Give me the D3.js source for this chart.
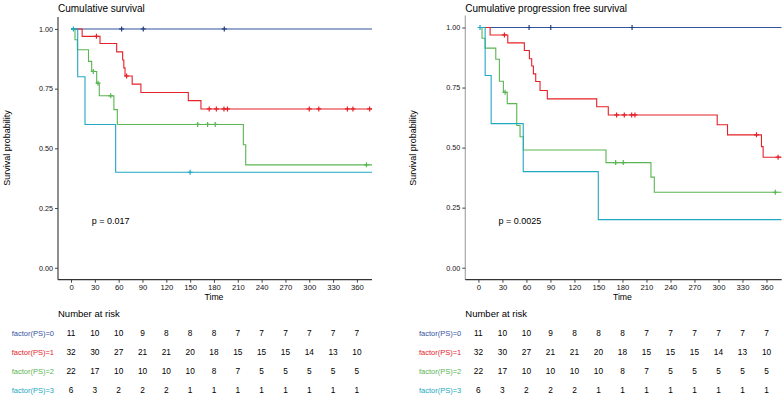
<!DOCTYPE html>
<html>
<head>
<meta charset="utf-8">
<script src="https://cdn.jsdelivr.net/npm/d3@7"></script>
<style>
	body { margin: 0; background: #fff; }
	svg { display: block; font-family: "Liberation Sans", Arial, sans-serif; }
</style>
</head>
<body>
<svg id="chart" width="784" height="398"></svg>
<script>
// time axis ticks and number-at-risk time points
const timeTicks = [0, 30, 60, 90, 120, 150, 180, 210, 240, 270, 300, 330, 360];
const survTicks = [0, 0.25, 0.5, 0.75, 1];
const groupNames = ['factor(PS)=0', 'factor(PS)=1', 'factor(PS)=2', 'factor(PS)=3'];
const groupColors = ['#33539f', '#e52128', '#5ab552', '#21a8c2'];

// overall survival: step points [time, survival] and censor marks
const osPS0 = [[0, 1]];
const osPS0Censor = [[63.7, 1], [91, 1], [193, 1]];
const osPS1 = [[0, 1], [14, 0.969], [36.5, 0.939], [57.5, 0.904], [65, 0.870], [66.5, 0.837], [68, 0.803], [77, 0.769], [88, 0.734], [147.7, 0.700], [163.6, 0.665]];
const osPS1Censor = [[32, 0.969], [70, 0.803], [174, 0.665], [183, 0.665], [192.6, 0.665], [197, 0.665], [300, 0.665], [312, 0.665], [348, 0.665], [355, 0.665], [376, 0.665]];
const osPS2 = [[0, 1], [5, 0.955], [8, 0.913], [22, 0.864], [26, 0.822], [32.3, 0.773], [35.6, 0.720], [54, 0.662], [58.3, 0.600], [217, 0.515], [220, 0.431]];
const osPS2Censor = [[28, 0.822], [34, 0.773], [50, 0.720], [159.5, 0.600], [172, 0.600], [181.6, 0.600], [372, 0.431]];
const osPS3 = [[0, 1], [8.4, 0.80], [17.6, 0.60], [56.2, 0.40]];
const osPS3Censor = [[3, 1], [150, 0.40]];

// progression free survival
const pfsPS0 = [[0, 1]];
const pfsPS0Censor = [[63.3, 1], [90.4, 1], [192, 1]];
const pfsPS1 = [[0, 1], [14.6, 0.969], [36.7, 0.936], [57.4, 0.904], [63.7, 0.870], [66.6, 0.840], [68.7, 0.807], [71.6, 0.775], [77, 0.738], [86.1, 0.703], [147.8, 0.670], [162.3, 0.636], [298.4, 0.595], [311.3, 0.553], [353.7, 0.504], [355.8, 0.460]];
const pfsPS1Censor = [[32.5, 0.969], [172.7, 0.636], [182.3, 0.636], [191.5, 0.636], [195.6, 0.636], [347.5, 0.553], [374.5, 0.460]];
const pfsPS2 = [[0, 1], [4.5, 0.955], [8.4, 0.914], [21.7, 0.868], [26.2, 0.776], [31.2, 0.730], [36, 0.683], [47.9, 0.592], [52, 0.545], [56.2, 0.490], [159.4, 0.4375], [215.6, 0.377], [219.8, 0.314]];
const pfsPS2Censor = [[33.3, 0.730], [171.5, 0.4375], [181, 0.4375], [371, 0.314]];
const pfsPS3 = [[0, 1], [8.4, 0.80], [15.9, 0.60], [56, 0.40], [149.8, 0.20]];
const pfsPS3Censor = [[2, 1]];

// number at risk (same table printed under both panels)
const riskPS0 = [11, 10, 10, 9, 8, 8, 8, 7, 7, 7, 7, 7, 7];
const riskPS1 = [32, 30, 27, 21, 21, 20, 18, 15, 15, 15, 14, 13, 10];
const riskPS2 = [22, 17, 10, 10, 10, 10, 8, 7, 5, 5, 5, 5, 5];
const riskPS3 = [6, 3, 2, 2, 2, 1, 1, 1, 1, 1, 1, 1, 1];

const svg = d3.select('#chart');

/**
 * draw one survival panel with its risk table
 */
function drawPanel(p) {
	const x = d3.scaleLinear().domain([-16.4, 379]).range([p.left, p.right]);
	const y = d3.scaleLinear().domain([-0.05, 1.05]).range([p.bottom, p.top]);
	const g = svg.append('g');

	// title
	g.append('text')
		.attr('x', p.left).attr('y', 12)
		.attr('font-size', 10).attr('fill', '#000')
		.text(p.title);

	// y axis
	const yAxis = g.append('g')
		.attr('transform', `translate(${p.left},0)`)
		.call(d3.axisLeft(y).tickValues(survTicks).tickFormat(d3.format('.2f')).tickSize(3).tickPadding(2));
	yAxis.select('.domain').attr('stroke', p.axisColor).attr('stroke-width', 1.2)
		.attr('d', `M0,${p.top}V${p.bottom}`);
	yAxis.selectAll('.tick line').attr('stroke', '#444');
	yAxis.selectAll('.tick text').attr('font-size', 7.2).attr('fill', '#111').attr('font-family', null);

	// x axis
	const xAxis = g.append('g')
		.attr('transform', `translate(0,${p.bottom})`)
		.call(d3.axisBottom(x).tickValues(timeTicks).tickSize(3).tickPadding(2));
	xAxis.select('.domain').attr('stroke', '#333').attr('stroke-width', 1.2)
		.attr('d', `M${p.left},0H${p.right}`);
	xAxis.selectAll('.tick line').attr('stroke', '#444');
	xAxis.selectAll('.tick text').attr('font-size', 7.7).attr('fill', '#111').attr('font-family', null);

	g.append('text')
		.attr('x', (x(0) + x(360)) / 2).attr('y', p.bottom + 20)
		.attr('text-anchor', 'middle').attr('font-size', 8.7).attr('fill', '#000')
		.text('Time');

	g.append('text')
		.attr('transform', `translate(${p.ylabX},148) rotate(-90)`)
		.attr('text-anchor', 'middle').attr('font-size', 9).attr('fill', '#000')
		.text('Survival probability');

	// curves
	const clip = 'clip-' + p.id;
	g.append('clipPath').attr('id', clip)
		.append('rect').attr('x', p.left).attr('y', 0).attr('width', p.right - p.left).attr('height', p.bottom);
	const plot = g.append('g').attr('clip-path', `url(#${clip})`);
	const line = d3.line().x(d => x(d[0])).y(d => y(d[1])).curve(d3.curveStepAfter);

	p.curves.forEach((c, i) => {
		const pts = c.concat([[379, c[c.length - 1][1]]]);
		plot.append('path')
			.attr('d', line(pts))
			.attr('fill', 'none')
			.attr('stroke', groupColors[i])
			.attr('stroke-width', 1.1);
	});
	// censor marks
	p.censors.forEach((c, i) => {
		plot.selectAll(null)
			.data(c)
			.enter().append('path')
			.attr('d', d => `M${x(d[0]) - 2.5},${y(d[1])}h5M${x(d[0])},${y(d[1]) - 2.5}v5`)
			.attr('stroke', i === 0 ? '#23407f' : groupColors[i])
			.attr('stroke-width', 1.2);
	});

	// p value
	g.append('text')
		.attr('x', x(p.pX)).attr('y', 224)
		.attr('font-size', 9).attr('fill', '#000')
		.text(p.pText);

	// risk table
	g.append('text')
		.attr('x', p.left).attr('y', 317)
		.attr('font-size', 9.5).attr('fill', '#000')
		.text('Number at risk');
	const rows = [riskPS0, riskPS1, riskPS2, riskPS3];
	const rowY = d3.scalePoint().domain(groupNames).range([333, 390]);
	rows.forEach((r, i) => {
		g.append('text')
			.attr('x', p.left - 4).attr('y', rowY(groupNames[i]) + 3)
			.attr('text-anchor', 'end').attr('font-size', 7.5).attr('fill', groupColors[i])
			.text(groupNames[i]);
		g.selectAll(null)
			.data(r)
			.enter().append('text')
			.attr('x', (d, j) => x(timeTicks[j]))
			.attr('y', rowY(groupNames[i]) + 3)
			.attr('text-anchor', 'middle').attr('font-size', 8.3).attr('fill', '#000')
			.text(d => d);
	});
}

drawPanel({
	id: 'os', title: 'Cumulative survival',
	left: 58, right: 372, top: 17, bottom: 279.7, ylabX: 10, axisColor: '#444',
	curves: [osPS0, osPS1, osPS2, osPS3],
	censors: [osPS0Censor, osPS1Censor, osPS2Censor, osPS3Censor],
	pText: 'p = 0.017', pX: 26
});
drawPanel({
	id: 'pfs', title: 'Cumulative progression free survival',
	left: 465.3, right: 781.7, top: 15.5, bottom: 279.7, ylabX: 416, axisColor: '#a8a8a8',
	curves: [pfsPS0, pfsPS1, pfsPS2, pfsPS3],
	censors: [pfsPS0Censor, pfsPS1Censor, pfsPS2Censor, pfsPS3Censor],
	pText: 'p = 0.0025', pX: 25
});
</script>
</body>
</html>
